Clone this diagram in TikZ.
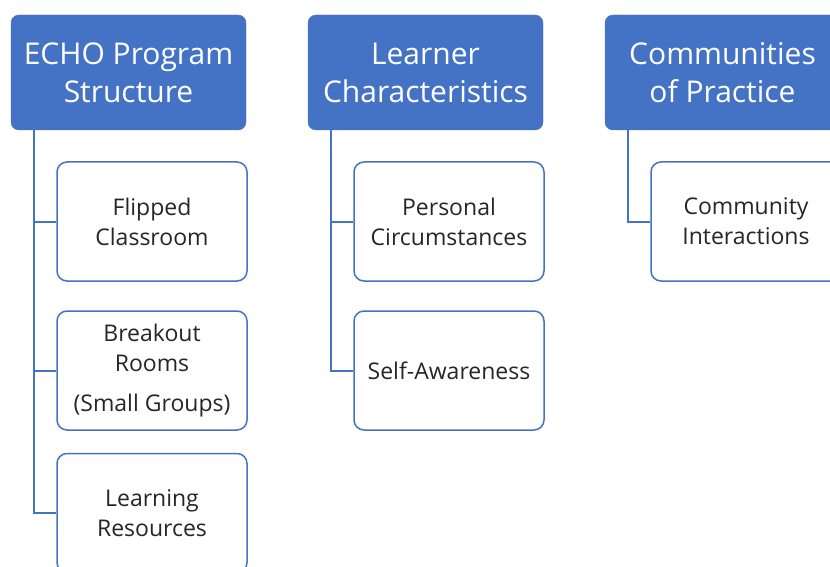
\documentclass[tikz,border=0pt]{standalone}
\usepackage{fontspec}
\setmainfont{Open Sans}
\usetikzlibrary{calc}
\definecolor{echoblue}{HTML}{4472C4}

\tikzset{
  head/.style={draw=echoblue, fill=echoblue, rounded corners=8pt, text=white,
    minimum width=235pt, minimum height=115pt, align=center, inner sep=0pt,
    font=\fontsize{30}{38}\selectfont},
  item/.style={draw=echoblue, line width=1.5pt, fill=white, rounded corners=10pt,
    text=black!85, minimum width=190pt, minimum height=119pt, align=center,
    inner sep=0pt, font=\fontsize{23}{30}\selectfont},
  link/.style={echoblue, line width=2pt}
}

\begin{document}
\begin{tikzpicture}[x=1pt,y=-1pt]

\clip (0,0) rectangle (830,567);
\fill[white] (0,0) rectangle (830,567);

% headers
\node[head] (echo) at (128.5,72.5) {ECHO Program\\Structure};
\node[head] (learner) at (425.5,72.5) {Learner\\Characteristics};
\node[head] (cop) at (722.5,72.5) {Communities\\of Practice};

% first column
\node[item] (flip) at (152,221.5) {Flipped\\Classroom};
\node[item] (breakout) at (152,370.5) {Breakout\\Rooms\\[10pt](Small Groups)};
\node[item] (res) at (152,513) {Learning\\Resources};

% second column
\node[item] (pers) at (449,221.5) {Personal\\Circumstances};
\node[item] (self) at (449,370.5) {Self-Awareness};

% third column
\node[item] (comm) at (746,221.5) {Community\\Interactions};

\coordinate (e) at ([xshift=23pt]echo.south west);
\coordinate (l) at ([xshift=23pt]learner.south west);
\coordinate (c) at ([xshift=23pt]cop.south west);

\draw[link] (e) |- (res.west);
\draw[link] (e) |- (flip.west);
\draw[link] (e) |- (breakout.west);

\draw[link] (l) |- (self.west);
\draw[link] (l) |- (pers.west);

\draw[link] (c) |- (comm.west);

\end{tikzpicture}
\end{document}
